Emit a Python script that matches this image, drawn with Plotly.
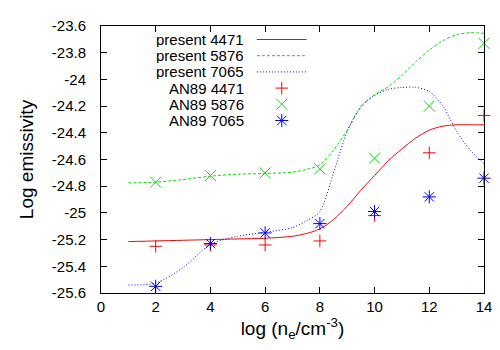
import plotly.graph_objects as go

# model curves ("present"), sampled along log n_e
curve_x = [1, 2, 3, 4, 5, 6, 7, 7.5, 8, 8.5, 9, 9.5, 10, 10.5, 11, 11.5, 12, 12.5, 13, 13.5, 14]
present_4471 = [-25.215, -25.21, -25.205, -25.2, -25.195, -25.19, -25.175, -25.155, -25.12, -25.05,
                -24.95, -24.83, -24.72, -24.61, -24.52, -24.44, -24.38, -24.35, -24.34, -24.34, -24.34]
present_5876 = [-24.775, -24.77, -24.75, -24.725, -24.71, -24.705, -24.695, -24.675, -24.64, -24.53,
                -24.38, -24.21, -24.115, -24.055, -23.97, -23.87, -23.78, -23.71, -23.665, -23.65, -23.655]
present_7065 = [-25.54, -25.525, -25.41, -25.235, -25.175, -25.145, -25.11, -25.06, -24.99, -24.7,
                -24.39, -24.2, -24.12, -24.075, -24.06, -24.06, -24.09, -24.2, -24.39, -24.53, -24.63]

# AN89 points
an89_x = [2, 4, 6, 8, 10, 12, 14]
an89_4471 = [-25.25, -25.24, -25.24, -25.21, -25.02, -24.55, -24.27]
an89_5876 = [-24.77, -24.72, -24.70, -24.67, -24.59, -24.20, -23.73]
an89_7065 = [-25.55, -25.23, -25.15, -25.08, -24.99, -24.88, -24.74]

x_ticks = [0, 2, 4, 6, 8, 10, 12, 14]
y_ticks = [-23.6, -23.8, -24.0, -24.2, -24.4, -24.6, -24.8, -25.0, -25.2, -25.4, -25.6]
y_tick_text = ["-23.6", "-23.8", "-24", "-24.2", "-24.4", "-24.6", "-24.8", "-25", "-25.2", "-25.4", "-25.6"]

RED, GREEN, BLUE = "#ff0000", "#00e000", "#0000ff"
FONT = "Liberation Sans, Arial, sans-serif"

lines = [
    ("present 4471", present_4471, RED, "solid"),
    ("present 5876", present_5876, GREEN, "3px,2px"),
    ("present 7065", present_7065, BLUE, "1px,2px"),
]
points = [
    ("AN89 4471", an89_4471, RED, "cross-thin-open", 9),
    ("AN89 5876", an89_5876, GREEN, "x-thin-open", 11),
    ("AN89 7065", an89_7065, BLUE, "asterisk-open", 11),
]

fig = go.Figure()
for name, ys, col, dash in lines:
    fig.add_trace(go.Scatter(x=curve_x, y=ys, mode="lines", name=name,
                             line=dict(color=col, width=1, dash=dash, shape="spline", smoothing=0.8)))
for name, ys, col, sym, size in points:
    fig.add_trace(go.Scatter(x=an89_x, y=ys, mode="markers", name=name, cliponaxis=False,
                             marker=dict(symbol=sym, size=size, color=col, line=dict(color=col, width=1))))

# gnuplot-style key: right-aligned text, sample to the right (paper fractions)
row_y = [0.9494, 0.8888, 0.8281, 0.7674, 0.7067, 0.6461]
key_text_x = 0.378
key_line = (0.407, 0.537)
key_mark_x = 0.472
key_font = dict(size=15)
annotations = []
for i, (name, _, col, dash) in enumerate(lines):
    fig.add_trace(go.Scatter(x=list(key_line), y=[row_y[i]] * 2, mode="lines", xaxis="x2", yaxis="y2",
                             line=dict(color=col, width=1, dash=dash), showlegend=False))
    annotations.append(dict(x=key_text_x, y=row_y[i], xref="paper", yref="paper", text=name, height=15,
                            showarrow=False, xanchor="right", yanchor="middle", font=key_font))
for j, (name, _, col, sym, size) in enumerate(points):
    i = j + 3
    fig.add_trace(go.Scatter(x=[key_mark_x], y=[row_y[i]], mode="markers", xaxis="x2", yaxis="y2",
                             marker=dict(symbol=sym, size=size, color=col, line=dict(color=col, width=1)),
                             showlegend=False))
    annotations.append(dict(x=key_text_x, y=row_y[i], xref="paper", yref="paper", text=name, height=15,
                            showarrow=False, xanchor="right", yanchor="middle", font=key_font))

axis_common = dict(showline=True, linecolor="black", linewidth=1, mirror="ticks", ticks="inside",
                   ticklen=6, tickcolor="black", showgrid=False, zeroline=False, automargin=False,
                   tickfont=dict(size=15))
fig.update_layout(
    width=500, height=350,
    margin=dict(l=93, r=24, t=18, b=65),
    paper_bgcolor="white", plot_bgcolor="white",
    font=dict(family=FONT, size=16, color="black"),
    showlegend=False,
    xaxis=dict(range=[0, 14], tickvals=x_ticks, ticklabelstandoff=0,
               title=dict(text="log (n<sub>e</sub>/cm<sup>-3</sup>)", standoff=0), **axis_common),
    yaxis=dict(range=[-25.6, -23.6], tickvals=y_ticks, ticktext=y_tick_text, ticklabelstandoff=11,
               title=dict(text="Log emissivity", standoff=13), **axis_common),
    xaxis2=dict(range=[0, 1], overlaying="x", visible=False),
    yaxis2=dict(range=[0, 1], overlaying="y", visible=False),
    annotations=annotations,
)
fig.write_html("out.html")
